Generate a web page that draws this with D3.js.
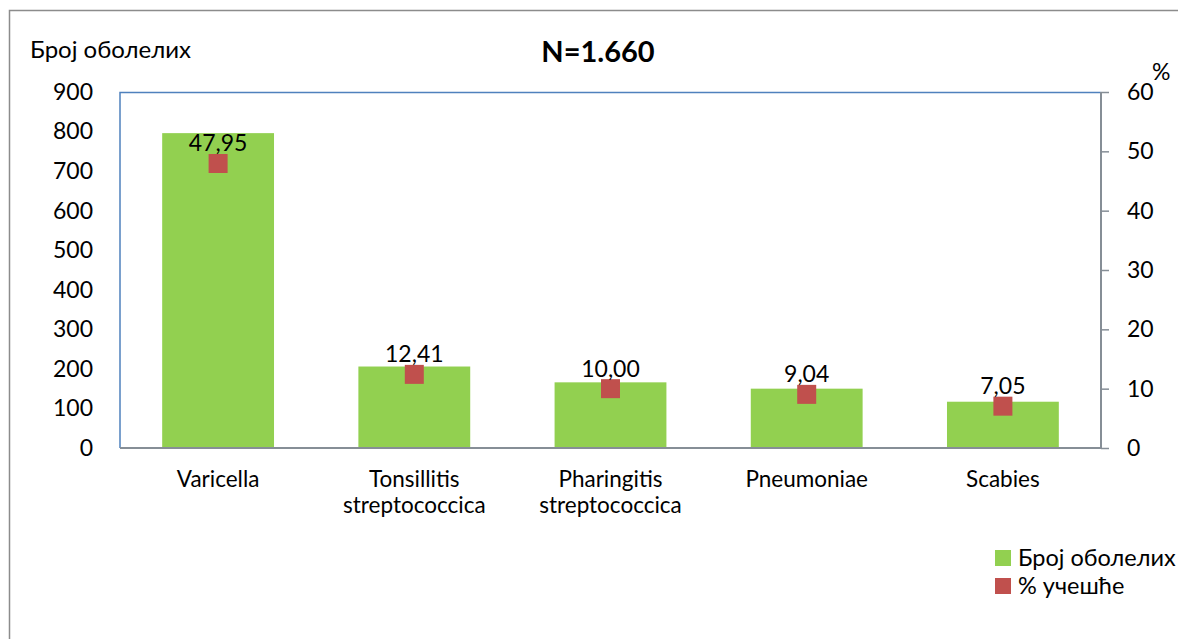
<!DOCTYPE html>
<html><head><meta charset="utf-8">
<script src="https://cdn.jsdelivr.net/npm/d3@7"></script>
<style>body{margin:0;background:#fff;}svg{display:block;font-family:Lato,sans-serif;}</style>
</head><body><svg id="c" width="1178" height="639"></svg>
<script>
const categories = [["Varicella"], ["Tonsillitis","streptococcica"], ["Pharingitis","streptococcica"], ["Pneumoniae"], ["Scabies"]];
const counts = [796, 206, 166, 150, 117];
const percents = [47.95, 12.41, 10.00, 9.04, 7.05];
const leftTicks = [0,100,200,300,400,500,600,700,800,900];
const rightTicks = [0,10,20,30,40,50,60];
const title = "N=1.660";
const leftTitle = "Број оболелих";
const rightTitle = "%";
const legendLabels = ["Број оболелих", "% учешће"];

const svg = d3.select("#c");
const M = {l:120, r:1101, t:92, b:448};
const green = "#92d050", red = "#c0504d", blue = "#4f81bd", gray = "#868e96";
const F = "Lato";

svg.append("rect").attr("x",9.5).attr("y",10.5).attr("width",1300).attr("height",800)
  .attr("fill","none").attr("stroke","#8c8c8c").attr("stroke-width",1.5);

const x = d3.scaleBand().domain(d3.range(categories.length)).range([M.l, M.r]).paddingInner(0.43).paddingOuter(0.215);
const yL = d3.scaleLinear().domain([0,900]).range([M.b, M.t]);
const yR = d3.scaleLinear().domain([0,60]).range([M.b, M.t]);

svg.selectAll("rect.bar").data(counts).enter().append("rect").attr("class","bar")
  .attr("x",(d,i)=>x(i)).attr("width",x.bandwidth())
  .attr("y",d=>yL(d)).attr("height",d=>M.b-yL(d)).attr("fill",green);

svg.append("path").attr("d",`M${M.l},${M.b}V${M.t+0.5}H${M.r}`).attr("fill","none").attr("stroke",blue).attr("stroke-width",1.5);
svg.append("line").attr("x1",M.l).attr("x2",M.r).attr("y1",M.b).attr("y2",M.b).attr("stroke",gray).attr("stroke-width",2);

const gL = svg.append("g").attr("transform",`translate(${M.l},0)`)
  .call(d3.axisLeft(yL).tickValues(leftTicks).tickSize(0).tickPadding(27));
gL.select(".domain").remove();
gL.selectAll("text").attr("font-size",23).attr("font-family",F).attr("fill","#000");

const gR = svg.append("g").attr("transform",`translate(${M.r},0)`)
  .call(d3.axisRight(yR).tickValues(rightTicks).tickSize(8).tickPadding(18));
gR.select(".domain").attr("stroke",gray).attr("stroke-width",2).attr("d",`M0,${M.t}V${M.b}`);
gR.selectAll(".tick line").attr("stroke",gray).attr("stroke-width",1.5);
gR.selectAll("text").attr("font-size",23).attr("font-family",F).attr("fill","#000");

const cl = svg.selectAll("text.cat").data(categories).enter().append("text").attr("class","cat")
  .attr("x",(d,i)=>x(i)+x.bandwidth()/2).attr("y",487).attr("text-anchor","middle")
  .attr("font-size",22.5).attr("fill","#000");
cl.selectAll("tspan").data(d=>d).enter().append("tspan")
  .attr("x",function(){return this.parentNode.getAttribute("x");})
  .attr("dy",(d,i)=>i?26:0).text(d=>d);

const ms = 19;
svg.selectAll("rect.mk").data(percents).enter().append("rect").attr("class","mk")
  .attr("x",(d,i)=>x(i)+x.bandwidth()/2-ms/2).attr("y",d=>yR(d)-ms/2)
  .attr("width",ms).attr("height",ms).attr("fill",red);
svg.selectAll("text.pl").data(percents).enter().append("text").attr("class","pl")
  .attr("x",(d,i)=>x(i)+x.bandwidth()/2).attr("y",d=>yR(d)-12).attr("text-anchor","middle")
  .attr("font-size",23).attr("fill","#000").text(d=>d.toFixed(2).replace(".",","));

svg.append("text").attr("x",598).attr("y",62).attr("text-anchor","middle").attr("font-size",29).attr("font-weight","bold").text(title);
svg.append("text").attr("x",30).attr("y",58).attr("font-size",24).text(leftTitle);
svg.append("text").attr("x",1152).attr("y",80).attr("font-size",23).text(rightTitle);

const lg = svg.append("g");
[green, red].forEach((c,i)=>{
  lg.append("rect").attr("x",995).attr("y",550+i*28).attr("width",16).attr("height",16).attr("fill",c);
  lg.append("text").attr("x",1018).attr("y",566+i*28).attr("font-size",23.5).text(legendLabels[i]);
});
</script></body></html>
